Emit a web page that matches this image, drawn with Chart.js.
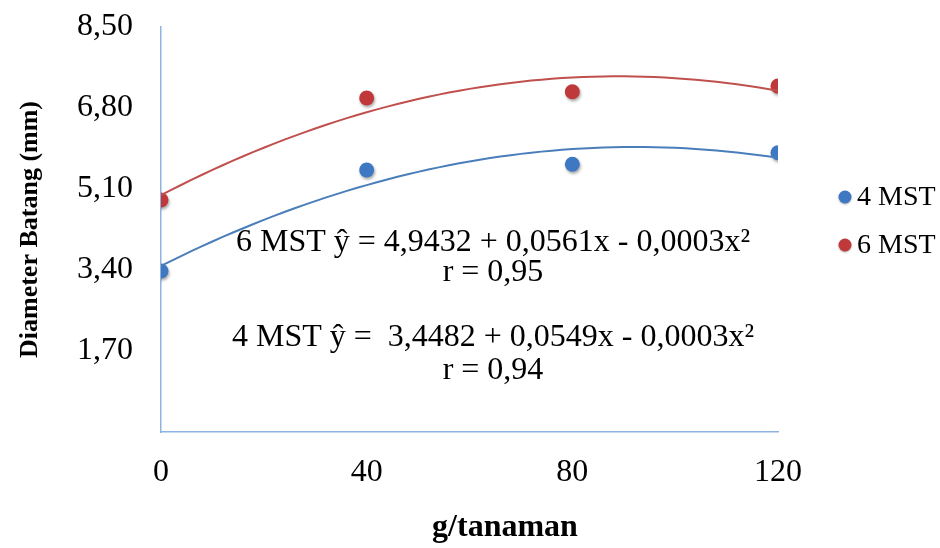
<!DOCTYPE html>
<html>
<head>
<meta charset="utf-8">
<script src="https://cdn.jsdelivr.net/npm/chart.js@4.4.1/dist/chart.umd.min.js"></script>
<style>
  html, body { margin: 0; padding: 0; background: #fff; }
  #wrap { width: 940px; height: 548px; }
</style>
</head>
<body>
<div id="wrap"><canvas id="chart" width="940" height="548"></canvas></div>
<script>
// data
const doses = [0, 40, 80, 120];
const mst4 = [3.38, 5.50, 5.62, 5.86];
const mst6 = [4.87, 7.01, 7.14, 7.26];
const yTickValues = [0, 1.7, 3.4, 5.1, 6.8, 8.5];
const seriesNames = ['4 MST', '6 MST'];
const equationLines = [
  '6 MST \u0177 = 4,9432 + 0,0561x - 0,0003x\u00B2',
  'r = 0,95',
  '4 MST \u0177 =  3,4482 + 0,0549x - 0,0003x\u00B2',
  'r = 0,94'
];

const BLUE = '#3E77C2';
const RED = '#C0393A';
const BLUE_LINE = '#4A7EBB';
const RED_LINE = '#C0504D';
const AXIS = '#8DB3E2';
const SERIF = '"Liberation Serif", "Times New Roman", serif';

// quadratic least squares trendline (like the spreadsheet's polynomial trend)
function quadFit(xs, ys) {
  let s = [0, 0, 0, 0, 0], t = [0, 0, 0];
  xs.forEach((x, i) => {
    for (let k = 0; k < 5; k++) s[k] += Math.pow(x, k);
    for (let k = 0; k < 3; k++) t[k] += ys[i] * Math.pow(x, k);
  });
  const m = [[s[0], s[1], s[2], t[0]], [s[1], s[2], s[3], t[1]], [s[2], s[3], s[4], t[2]]];
  for (let c = 0; c < 3; c++) {
    for (let r = c + 1; r < 3; r++) {
      const f = m[r][c] / m[c][c];
      for (let k = c; k < 4; k++) m[r][k] -= f * m[c][k];
    }
  }
  const a = [0, 0, 0];
  for (let r = 2; r >= 0; r--) {
    let v = m[r][3];
    for (let k = r + 1; k < 3; k++) v -= m[r][k] * a[k];
    a[r] = v / m[r][r];
  }
  return a;
}
function trend(ys) {
  const a = quadFit(doses, ys);
  const pts = [];
  for (let x = doses[0]; x <= doses[doses.length - 1]; x += 2) {
    pts.push({ x: x, y: a[0] + a[1] * x + a[2] * x * x });
  }
  return pts;
}
const toPts = ys => doses.map((x, i) => ({ x: x, y: ys[i] }));

const pointShadow = {
  id: 'pointShadow',
  beforeDatasetDraw(chart, args) {
    const ds = chart.data.datasets[args.index];
    if (ds.isTrend) return;
    const ctx = chart.ctx;
    ctx.save();
    ctx.shadowColor = 'rgba(0,0,0,0.35)';
    ctx.shadowBlur = 3;
    ctx.shadowOffsetX = 1;
    ctx.shadowOffsetY = 2;
  },
  afterDatasetDraw(chart, args) {
    const ds = chart.data.datasets[args.index];
    if (ds.isTrend) return;
    chart.ctx.restore();
  }
};

const extras = {
  id: 'extras',
  afterDraw(chart) {
    const ctx = chart.ctx;
    ctx.save();
    ctx.fillStyle = '#000';
    ctx.textAlign = 'center';
    ctx.textBaseline = 'middle';
    // x axis title (sits right of the plot centre in the original)
    ctx.font = 'bold 32px ' + SERIF;
    ctx.fillText('g/tanaman', 505, 528);
    // equations
    ctx.font = '32px ' + SERIF;
    const eqY = [243, 273, 338, 371];
    equationLines.forEach((t, i) => ctx.fillText(t, 493, eqY[i]));
    // legend
    const legendY = [197, 245];
    const colors = [BLUE, RED];
    ctx.font = '28px ' + SERIF;
    ctx.textAlign = 'left';
    seriesNames.forEach((name, i) => {
      ctx.save();
      ctx.shadowColor = 'rgba(0,0,0,0.3)';
      ctx.shadowBlur = 2;
      ctx.shadowOffsetY = 1;
      ctx.beginPath();
      ctx.arc(845, legendY[i], 6.5, 0, Math.PI * 2);
      ctx.fillStyle = colors[i];
      ctx.fill();
      ctx.restore();
      ctx.fillStyle = '#000';
      ctx.fillText(name, 857, legendY[i] + 1);
    });
    ctx.restore();
  }
};

// invisible tick marks give the label gap without adding top padding
const hiddenGrid = len => ({ display: true, color: 'rgba(0,0,0,0)', drawOnChartArea: false,
  drawTicks: true, tickLength: len });

new Chart(document.getElementById('chart'), {
  type: 'scatter',
  data: {
    datasets: [
      { label: seriesNames[0] + ' trend', isTrend: true, type: 'line', data: trend(mst4),
        borderColor: BLUE_LINE, borderWidth: 2, pointRadius: 0, fill: false, tension: 0 },
      { label: seriesNames[1] + ' trend', isTrend: true, type: 'line', data: trend(mst6),
        borderColor: RED_LINE, borderWidth: 2, pointRadius: 0, fill: false, tension: 0 },
      { label: seriesNames[0], data: toPts(mst4), backgroundColor: BLUE, borderColor: BLUE,
        pointRadius: 7.5, pointBorderWidth: 0 },
      { label: seriesNames[1], data: toPts(mst6), backgroundColor: RED, borderColor: RED,
        pointRadius: 7.5, pointBorderWidth: 0 }
    ]
  },
  options: {
    responsive: false,
    animation: false,
    layout: { padding: { top: 27, right: 162, left: 0, bottom: 0 } },
    plugins: { legend: { display: false }, tooltip: { enabled: false } },
    scales: {
      x: {
        type: 'linear', min: 0, max: 120,
        afterBuildTicks: s => { s.ticks = doses.map(v => ({ value: v })); },
        afterFit: s => { s.height = 116; },
        grid: hiddenGrid(20),
        border: { display: true, color: AXIS, width: 1.5 },
        ticks: { color: '#000', padding: 1, font: { family: SERIF, size: 32 }, maxRotation: 0 },
        title: { display: false }
      },
      y: {
        min: 0, max: 8.5,
        afterBuildTicks: s => { s.ticks = yTickValues.map(v => ({ value: v })); },
        afterFit: s => { s.width = 161; },
        grid: hiddenGrid(27),
        border: { display: true, color: AXIS, width: 1.5 },
        ticks: { color: '#000', padding: 1, font: { family: SERIF, size: 32 },
          callback: v => v === 0 ? '' : v.toFixed(2).replace('.', ',') },
        title: { display: true, text: 'Diameter Batang (mm)', color: '#000',
          font: { family: SERIF, size: 26, weight: 'bold' }, padding: { top: 15, bottom: 0 } }
      }
    }
  },
  plugins: [pointShadow, extras]
});
</script>
</body>
</html>
